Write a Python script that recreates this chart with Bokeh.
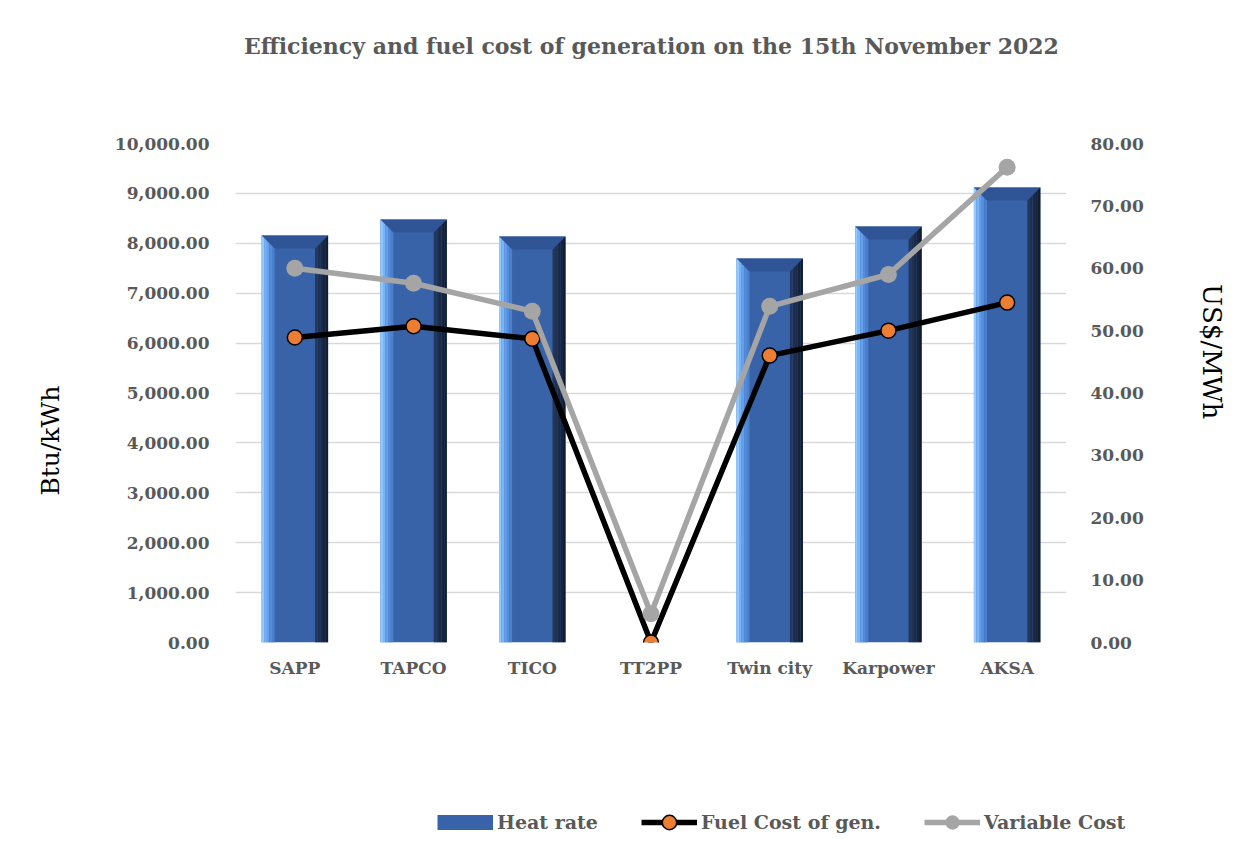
import numpy as np
from bokeh.plotting import figure
from bokeh.models import (Range1d, LinearAxis, FixedTicker, NumeralTickFormatter,
                          Legend, LegendItem, Label)
from bokeh.embed import file_html
from bokeh.resources import INLINE

categories = ["SAPP", "TAPCO", "TICO", "TT2PP", "Twin city", "Karpower", "AKSA"]
heat_rate = [8156, 8477, 8136, 0, 7695, 8337, 9118]          # Btu/kWh (left axis)
fuel_cost = [48.9, 50.7, 48.7, 0.0, 46.0, 50.0, 54.5]         # US$/MWh (right axis)
variable_cost = [60.0, 57.6, 53.1, 4.6, 53.9, 59.0, 76.2]     # US$/MWh (right axis)
left_ticks = list(range(0, 10001, 1000))
right_ticks = list(range(0, 81, 10))
title_text = "Efficiency and fuel cost of generation on the 15th November 2022"

FONT = "DejaVu Serif"
GREY = "#595959"
BAR = "#3863a8"
ORANGE = "#ed7d31"
LGREY = "#a5a5a5"
NB = "\u00a0"
W = 1241


def blank(height):
    f = figure(width=W, height=height, x_range=Range1d(0, 1), y_range=Range1d(0, 1),
               output_backend="svg", toolbar_location=None, min_border=0,
               x_axis_type=None, y_axis_type=None)
    f.outline_line_color = None
    f.xgrid.visible = False
    f.ygrid.visible = False
    return f


# ---- title strip
tf = blank(90)
tf.add_layout(Label(x=0.5245, y=0.5, text=title_text, text_align="center",
                    text_baseline="middle", text_font=FONT, text_font_size="22px",
                    text_font_style="bold", text_color=GREY))

# ---- main chart
p = figure(width=W, height=670, x_range=Range1d(0, 7), y_range=Range1d(0, 10000),
           output_backend="svg", toolbar_location=None,
           min_border_left=235, min_border_right=175, min_border_top=53, min_border_bottom=118)
p.extra_y_ranges = {"cost": Range1d(0, 80)}
p.outline_line_color = None

xs = [i + 0.5 for i in range(len(categories))]
p.xaxis.ticker = FixedTicker(ticks=xs)
p.xaxis.major_label_overrides = {x: c for x, c in zip(xs, categories)}
p.yaxis.ticker = FixedTicker(ticks=left_ticks)
p.yaxis.formatter = NumeralTickFormatter(format="0,0.00")
p.yaxis.axis_label = "Btu/kWh" + NB * 12

right = LinearAxis(y_range_name="cost", ticker=FixedTicker(ticks=right_ticks),
                   formatter=NumeralTickFormatter(format="0.00"),
                   axis_label="US$/MWh" + NB * 10)
p.add_layout(right, "right")

for ax in [p.xaxis[0], p.yaxis[0], right]:
    ax.axis_line_color = None
    ax.major_tick_line_color = None
    ax.minor_tick_line_color = None
    ax.major_label_text_font = FONT
    ax.major_label_text_font_style = "bold"
    ax.major_label_text_color = GREY
    ax.major_label_text_font_size = "17px"
    ax.axis_label_text_font = FONT
    ax.axis_label_text_font_style = "normal"
    ax.axis_label_text_color = "black"
    ax.axis_label_text_font_size = "25px"
right.axis_label_text_font_size = "26px"
p.xaxis.major_label_standoff = 9
p.yaxis.major_label_standoff = 20
p.yaxis.axis_label_standoff = 47
right.major_label_standoff = 18
right.axis_label_standoff = 50

p.xgrid.grid_line_color = None
p.ygrid.grid_line_color = "#d9d9d9"
p.ygrid.grid_line_width = 1.5

# bevelled bars
bar_w = 0.56
b = 0.11      # bevel width (x units)
bv = 260      # bevel height (y units)
left_cols = ["#93cbff", "#7ab5f8", "#65a0ec", "#558dda", "#4a80cc"]
right_cols = ["#23375c", "#1e3050", "#1a2945", "#16233b", "#121d32"]
center_xs, center_ys = [], []
top_xs, top_ys = [], []
l_xs, l_ys, l_c = [], [], []
r_xs, r_ys, r_c = [], [], []
for x, v in zip(xs, heat_rate):
    if v <= 0:
        continue
    x0, x1 = x - bar_w / 2, x + bar_w / 2
    center_xs.append([x0, x1, x1, x0]); center_ys.append([0, 0, v, v])
    top_xs.append([x0, x1, x1 - b, x0 + b]); top_ys.append([v, v, v - bv, v - bv])
    n = len(left_cols)
    for k in range(n):
        f0, f1 = k / n, (k + 1) / n
        l_xs.append([x0 + b * f0, x0 + b * f1, x0 + b * f1, x0 + b * f0])
        l_ys.append([0, 0, v - bv * f1, v - bv * f0])
        l_c.append(left_cols[k])
        r_xs.append([x1 - b * f0, x1 - b * f1, x1 - b * f1, x1 - b * f0])
        r_ys.append([0, 0, v - bv * f1, v - bv * f0])
        r_c.append(right_cols[n - 1 - k])

p.patches(center_xs, center_ys, fill_color=BAR, line_color=None)
p.patches(top_xs, top_ys, fill_color="#2f5596", line_color=None)
p.patches(l_xs, l_ys, fill_color=l_c, line_color=None)
p.patches(r_xs, r_ys, fill_color=r_c, line_color=None)

p.line(xs, fuel_cost, y_range_name="cost", line_color="black", line_width=5.5)
p.scatter(xs, fuel_cost, y_range_name="cost", size=15, fill_color=ORANGE,
          line_color="black", line_width=1.5)
p.line(xs, variable_cost, y_range_name="cost", line_color=LGREY, line_width=5.5)
p.scatter(xs, variable_cost, y_range_name="cost", size=17, fill_color=LGREY,
          line_color=None)

# ---- legend strip
lg = blank(80)
off_x, off_y = [5, 6, 6], [5, 5, 6]   # placeholder glyphs outside the visible range
r_bar = lg.line(x=off_x, y=off_y, line_color=BAR, line_width=15, line_cap="butt")
r_fl = lg.line(x=off_x, y=off_y, line_color="black", line_width=5.5)
r_fm = lg.scatter(x=off_x, y=off_y, size=15, fill_color=ORANGE, line_color="black", line_width=1.5)
r_vl = lg.line(x=off_x, y=off_y, line_color=LGREY, line_width=5.5)
r_vm = lg.scatter(x=off_x, y=off_y, size=17, fill_color=LGREY, line_color=None)

legend = Legend(items=[LegendItem(label="Heat rate", renderers=[r_bar]),
                       LegendItem(label="Fuel Cost of gen.", renderers=[r_fl, r_fm]),
                       LegendItem(label="Variable Cost", renderers=[r_vl, r_vm])],
                orientation="horizontal", location=(437, 0),
                glyph_width=56, glyph_height=36, label_standoff=4, spacing=43,
                padding=0, margin=0, border_line_color=None, background_fill_alpha=0,
                label_text_font=FONT, label_text_font_style="bold",
                label_text_font_size="19px", label_text_color=GREY)
lg.add_layout(legend, "center")

open("out.html", "w").write(file_html([tf, p, lg], INLINE))
